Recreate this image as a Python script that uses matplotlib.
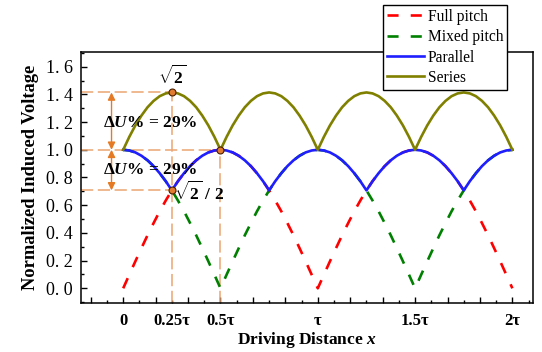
import matplotlib
matplotlib.use("Agg")
import matplotlib.pyplot as plt
from matplotlib.ticker import MultipleLocator, FuncFormatter, NullFormatter

plt.rcParams['font.family'] = ['Liberation Serif', 'DejaVu Serif']
plt.rcParams['mathtext.fontset'] = 'custom'
plt.rcParams['mathtext.rm'] = 'Liberation Serif:bold'
plt.rcParams['mathtext.it'] = 'Liberation Serif:italic:bold'
plt.rcParams['mathtext.bf'] = 'Liberation Serif:bold'

# driving distance in units of tau, sampled every tau/32
x_tau = [0.0, 0.03125, 0.0625, 0.09375, 0.125, 0.15625, 0.1875, 0.21875,
         0.25, 0.28125, 0.3125, 0.34375, 0.375, 0.40625, 0.4375, 0.46875,
         0.5, 0.53125, 0.5625, 0.59375, 0.625, 0.65625, 0.6875, 0.71875,
         0.75, 0.78125, 0.8125, 0.84375, 0.875, 0.90625, 0.9375, 0.96875,
         1.0, 1.03125, 1.0625, 1.09375, 1.125, 1.15625, 1.1875, 1.21875,
         1.25, 1.28125, 1.3125, 1.34375, 1.375, 1.40625, 1.4375, 1.46875,
         1.5, 1.53125, 1.5625, 1.59375, 1.625, 1.65625, 1.6875, 1.71875,
         1.75, 1.78125, 1.8125, 1.84375, 1.875, 1.90625, 1.9375, 1.96875,
         2.0]

full_pitch = [0.000, 0.098, 0.195, 0.290, 0.383, 0.471, 0.556, 0.634,
              0.707, 0.773, 0.831, 0.882, 0.924, 0.957, 0.981, 0.995,
              1.000, 0.995, 0.981, 0.957, 0.924, 0.882, 0.831, 0.773,
              0.707, 0.634, 0.556, 0.471, 0.383, 0.290, 0.195, 0.098,
              0.000, 0.098, 0.195, 0.290, 0.383, 0.471, 0.556, 0.634,
              0.707, 0.773, 0.831, 0.882, 0.924, 0.957, 0.981, 0.995,
              1.000, 0.995, 0.981, 0.957, 0.924, 0.882, 0.831, 0.773,
              0.707, 0.634, 0.556, 0.471, 0.383, 0.290, 0.195, 0.098,
              0.000]

mixed_pitch = [1.000, 0.995, 0.981, 0.957, 0.924, 0.882, 0.831, 0.773,
               0.707, 0.634, 0.556, 0.471, 0.383, 0.290, 0.195, 0.098,
               0.000, 0.098, 0.195, 0.290, 0.383, 0.471, 0.556, 0.634,
               0.707, 0.773, 0.831, 0.882, 0.924, 0.957, 0.981, 0.995,
               1.000, 0.995, 0.981, 0.957, 0.924, 0.882, 0.831, 0.773,
               0.707, 0.634, 0.556, 0.471, 0.383, 0.290, 0.195, 0.098,
               0.000, 0.098, 0.195, 0.290, 0.383, 0.471, 0.556, 0.634,
               0.707, 0.773, 0.831, 0.882, 0.924, 0.957, 0.981, 0.995,
               1.000]

parallel = [1.000, 0.995, 0.981, 0.957, 0.924, 0.882, 0.831, 0.773,
            0.707, 0.773, 0.831, 0.882, 0.924, 0.957, 0.981, 0.995,
            1.000, 0.995, 0.981, 0.957, 0.924, 0.882, 0.831, 0.773,
            0.707, 0.773, 0.831, 0.882, 0.924, 0.957, 0.981, 0.995,
            1.000, 0.995, 0.981, 0.957, 0.924, 0.882, 0.831, 0.773,
            0.707, 0.773, 0.831, 0.882, 0.924, 0.957, 0.981, 0.995,
            1.000, 0.995, 0.981, 0.957, 0.924, 0.882, 0.831, 0.773,
            0.707, 0.773, 0.831, 0.882, 0.924, 0.957, 0.981, 0.995,
            1.000]

series = [1.000, 1.093, 1.176, 1.247, 1.307, 1.353, 1.387, 1.407,
          1.414, 1.407, 1.387, 1.353, 1.307, 1.247, 1.176, 1.093,
          1.000, 1.093, 1.176, 1.247, 1.307, 1.353, 1.387, 1.407,
          1.414, 1.407, 1.387, 1.353, 1.307, 1.247, 1.176, 1.093,
          1.000, 1.093, 1.176, 1.247, 1.307, 1.353, 1.387, 1.407,
          1.414, 1.407, 1.387, 1.353, 1.307, 1.247, 1.176, 1.093,
          1.000, 1.093, 1.176, 1.247, 1.307, 1.353, 1.387, 1.407,
          1.414, 1.407, 1.387, 1.353, 1.307, 1.247, 1.176, 1.093,
          1.000]

tick_pos = [0, 0.25, 0.5, 1.0, 1.5, 2.0]
tick_labels = ['0', '0.25τ', '0.5τ', 'τ', '1.5τ', '2τ']

# marked points: series peak, common point, parallel dip
mark_x = [0.25, 0.5, 0.25]
mark_y = [1.414, 1.000, 0.707]

guide_c = '#EBA672'
arrow_c = '#E57A25'

fig = plt.figure(figsize=(5.42, 3.52), dpi=100)
ax = fig.add_axes([0.1494, 0.1392, 0.8340, 0.7131])

dash = (4.2, 4.6)
ax.plot(x_tau, full_pitch, color='#FF0000', lw=1.9, dashes=dash, label='Full pitch', zorder=3)
ax.plot(x_tau, mixed_pitch, color='#008000', lw=1.9, dashes=dash, label='Mixed pitch', zorder=3)
ax.plot(x_tau, parallel, color='#1E1EFF', lw=1.9, label='Parallel', zorder=4)
ax.plot(x_tau, series, color='#808000', lw=1.9, label='Series', zorder=4)

xmin, xmax = -0.217, 2.106
ymin, ymax = -0.106, 1.706
ax.set_xlim(xmin, xmax)
ax.set_ylim(ymin, ymax)

# guide lines
gkw = dict(color=guide_c, lw=1.1, dashes=(8, 3), zorder=2)
ax.plot([xmin, mark_x[0]], [mark_y[0], mark_y[0]], **gkw)
ax.plot([xmin, mark_x[1]], [mark_y[1], mark_y[1]], **gkw)
ax.plot([xmin, mark_x[2]], [mark_y[2], mark_y[2]], **gkw)
ax.plot([mark_x[0], mark_x[0]], [ymin, mark_y[0]], **gkw)
ax.plot([mark_x[1], mark_x[1]], [ymin, mark_y[1]], **gkw)

ax.plot(mark_x, mark_y, 'o', ms=5, mfc='#E07B30', mec='#4A2000', mew=0.8, zorder=6)

# difference arrows
akw = dict(arrowstyle='<|-|>', color=arrow_c, lw=1.0, mutation_scale=11, shrinkA=0, shrinkB=0)
ax.annotate('', xy=(-0.06, mark_y[0]), xytext=(-0.06, mark_y[1]), arrowprops=akw, zorder=5)
ax.annotate('', xy=(-0.06, mark_y[1]), xytext=(-0.06, mark_y[2]), arrowprops=akw, zorder=5)

ax.text(0.137, 1.19, r'$\mathit{\Delta U}$% = 29%', fontsize=12.5, fontweight='bold',
        ha='center', va='center', zorder=7)
ax.text(0.14, 0.855, r'$\mathit{\Delta U}$% = 29%', fontsize=12.5, fontweight='bold',
        ha='center', va='center', zorder=7)
ax.text(0.25, 1.445, r'$\sqrt{2}$', fontsize=12.5, fontweight='bold', ha='center', va='bottom', zorder=7)
ax.text(0.262, 0.695, r'$\sqrt{2}$ / 2', fontsize=12.5, fontweight='bold', ha='left', va='center', zorder=7)

# axes styling
for s in ax.spines.values():
    s.set_linewidth(1.1)
ax.xaxis.set_major_locator(MultipleLocator(1 / 6))
ax.xaxis.set_minor_locator(MultipleLocator(1 / 12))
ax.xaxis.set_major_formatter(NullFormatter())
ax.yaxis.set_major_locator(MultipleLocator(0.2))
ax.yaxis.set_minor_locator(MultipleLocator(0.1))
ax.yaxis.set_major_formatter(FuncFormatter(lambda v, p: f'{v:.1f}'.replace('.', '. ')))
ax.tick_params(which='major', direction='in', length=4.5, width=1.0, labelsize=13, pad=6)
ax.tick_params(which='minor', direction='in', length=2.5, width=1.0)
ax.tick_params(axis='x', which='both', top=False)
ax.tick_params(axis='y', which='both', right=False)

for xp, lab in zip(tick_pos, tick_labels):
    ax.text(xp, -0.038, lab, transform=ax.get_xaxis_transform(), ha='center', va='top',
            fontsize=12, fontweight='bold')

ax.set_xlabel('Driving Distance $\\mathit{x}$', fontsize=12.5, fontweight='bold', labelpad=13.5)
ax.set_ylabel('Normalized Induced Voltage', fontsize=13.3, fontweight='bold', labelpad=5)

leg = ax.legend(loc='upper right', bbox_to_anchor=(0.936, 0.986), bbox_transform=fig.transFigure,
                fontsize=11.2, frameon=True, fancybox=False, framealpha=1, edgecolor='black',
                handlelength=2.35, handletextpad=0.25, labelspacing=0.28, borderpad=0.25,
                borderaxespad=0)
leg.get_frame().set_linewidth(1.0)
leg.set_zorder(10)

fig.savefig('out.png', dpi=100)
